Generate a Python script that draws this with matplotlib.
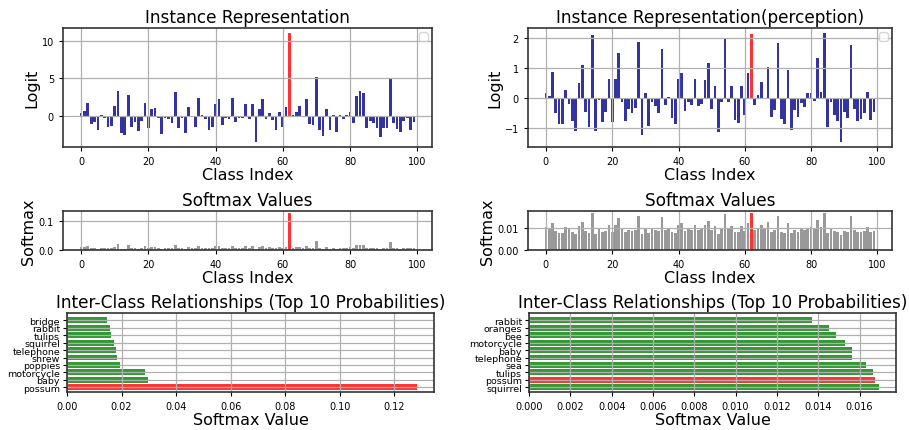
import numpy as np
import matplotlib
matplotlib.use("Agg")
import matplotlib.pyplot as plt

# ---------------- data ----------------
class_index = list(range(100))
target_class = 62
temperature = 4.0

logits_instance = [
    0.4, 0.65, 1.7, -1.1, -0.8, -1.9, 0.1, -0.3, -1.5, -1.35,
    1.3, 3.4, -2.3, -2.5, 2.75, -1.4, -0.75, -1.95, -0.6, 1.7,
    -1.6, 1.0, 1.05, -0.2, -2.35, -0.2, -0.35, -0.9, 3.15, -1.6,
    -0.2, -2.2, 1.2, -0.1, -1.4, 2.4, 0.1, -0.35, -1.8, -1.45,
    1.6, 2.25, -1.15, -0.2, -0.35, 2.4, -0.75, -0.2, -0.2, 1.6,
    -0.45, 1.6, -3.4, 1.0, 2.3, -0.45, 0.4, -0.5, -1.8, 0.5,
    -1.4, 1.2, 11.0, 0.2, 0.6, 1.3, -0.05, 2.25, -1.0, -1.15,
    5.2, -1.8, -2.6, 0.95, -1.9, 0.1, -2.1, 0.15, -0.45, 0.1,
    0.5, -0.9, 2.65, 3.3, 3.05, -1.55, -0.6, -0.9, -1.55, -2.75,
    -1.55, -1.55, 4.9, -0.9, -1.7, -2.1, -0.6, -0.2, -1.8, -0.8,
]

logits_perception = [
    0.17, 0.07, 0.87, -0.5, -0.86, -0.86, 0.27, -0.19, -0.76, -1.09,
    0.5, 1.1, -0.45, -0.96, 2.11, -1.09, -0.05, -0.8, -0.46, 0.66,
    -0.8, 0.64, 1.53, -0.12, -0.76, -0.35, -0.51, -0.33, 1.87, -1.23,
    0.16, -0.93, -0.12, -0.26, -0.49, 1.64, -0.23, 0.03, -0.65, -0.85,
    0.66, 0.86, -0.42, -0.12, -0.22, 0.66, -0.27, -0.2, 0.6, 1.19,
    -0.35, 0.42, -1.13, -0.12, 2.0, -0.12, 0.42, -0.72, -0.82, 0.42,
    -0.56, 0.86, 2.14, -0.22, 0.1, 0.56, -0.04, 1.06, -0.63, -0.4,
    1.85, -0.7, -0.85, 0.94, -1.06, -0.4, -0.63, -0.17, -0.29, 0.16,
    0.19, -0.09, 1.34, 0.22, 2.17, -0.96, -0.12, -0.56, -0.76, -1.45,
    -0.45, -0.67, 1.78, -0.37, -0.76, -0.7, -0.48, 0.22, -0.73, -0.46,
]

top10_names_instance = ["possum", "baby", "motorcycle", "poppies", "shrew",
                        "telephone", "squirrel", "tulips", "rabbit", "bridge"]
top10_probs_instance = [0.1282, 0.0298, 0.0287, 0.0195, 0.0184,
                        0.0180, 0.0173, 0.0162, 0.0159, 0.0148]

top10_names_perception = ["squirrel", "possum", "tulips", "sea", "telephone",
                          "baby", "motorcycle", "bee", "oranges", "rabbit"]
top10_probs_perception = [0.01692, 0.01677, 0.01663, 0.01629, 0.01566,
                          0.01566, 0.01532, 0.01484, 0.01450, 0.01368]
highlight_name = "possum"


def softmax(values, t):
    v = np.asarray(values, dtype=float) / t
    e = np.exp(v - v.max())
    return e / e.sum()


# ---------------- figure ----------------
plt.rcParams['font.family'] = ['DejaVu Sans']
fig = plt.figure(figsize=(9.09, 4.31), dpi=100)
W, H = 909.0, 431.0


def rect(l, t, r, b):
    return [l / W, (H - b) / H, (r - l) / W, (b - t) / H]


TICK = 7.0
TITLE = 12.2
LABEL = 11.5


def style(ax):
    ax.grid(True, color='#b0b0b0', linewidth=0.9)
    ax.tick_params(labelsize=TICK, length=3, width=0.8)
    for s in ax.spines.values():
        s.set_linewidth(1.2)
        s.set_color('#333333')


def logit_panel(ax, logits, title):
    colors = ['red' if i == target_class else 'darkblue' for i in class_index]
    ax.bar(class_index, logits, color=colors, alpha=0.8)
    ax.set_title(title, fontsize=TITLE, pad=4)
    ax.set_xlabel('Class Index', fontsize=LABEL, labelpad=1)
    ax.set_ylabel('Logit', fontsize=LABEL, labelpad=2)
    ax.legend(handles=[], loc='upper right', fontsize=8, borderaxespad=0.4)
    style(ax)


def softmax_panel(ax, logits):
    probs = softmax(logits, temperature)
    colors = ['red' if i == target_class else 'gray' for i in class_index]
    ax.bar(class_index, probs, color=colors, alpha=0.8)
    ax.set_title('Softmax Values', fontsize=TITLE, pad=4)
    ax.set_xlabel('Class Index', fontsize=LABEL, labelpad=1)
    ax.set_ylabel('Softmax', fontsize=LABEL, labelpad=2)
    style(ax)


def top10_panel(ax, names, probs):
    colors = ['red' if n == highlight_name else 'green' for n in names]
    ax.barh(names, probs, color=colors, alpha=0.8)
    ax.set_title('Inter-Class Relationships (Top 10 Probabilities)', fontsize=TITLE, pad=4)
    ax.set_xlabel('Softmax Value', fontsize=LABEL, labelpad=1)
    ax.set_ylim(-0.65, 10.0)
    style(ax)
    ax.tick_params(axis='y', labelsize=6.8, pad=2)


ax1 = fig.add_axes(rect(63, 29, 432, 148))
logit_panel(ax1, logits_instance, 'Instance Representation')
ax2 = fig.add_axes(rect(528, 29, 892, 148))
logit_panel(ax2, logits_perception, 'Instance Representation(perception)')

ax3 = fig.add_axes(rect(63, 212, 432, 251))
softmax_panel(ax3, logits_instance)
ax4 = fig.add_axes(rect(528, 212, 892, 251))
softmax_panel(ax4, logits_perception)

ax5 = fig.add_axes(rect(67, 314, 434, 393))
top10_panel(ax5, top10_names_instance, top10_probs_instance)
ax6 = fig.add_axes(rect(529, 314, 896, 393))
top10_panel(ax6, top10_names_perception, top10_probs_perception)

fig.savefig('out.png', dpi=100)
